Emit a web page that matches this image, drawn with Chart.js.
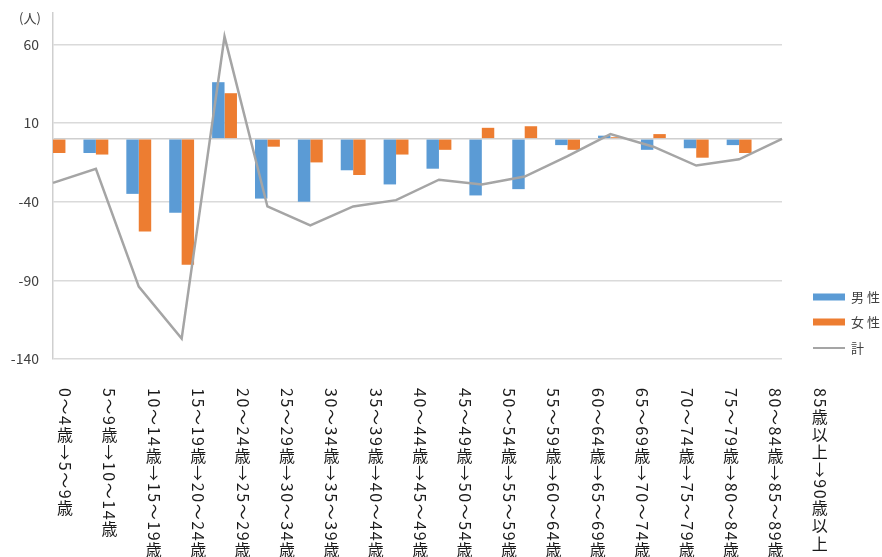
<!DOCTYPE html>
<html><head><meta charset="utf-8">
<script src="https://cdn.jsdelivr.net/npm/chart.js@4.4.1/dist/chart.umd.min.js"></script>
<style>html,body{margin:0;padding:0;background:#fff;}#wrap{width:882px;height:557px;position:relative;}</style>
</head><body><div id="wrap"><canvas id="c" width="882" height="557"></canvas></div>
<script>
const categories = ["0～4歳→5～9歳","5～9歳→10～14歳","10～14歳→15～19歳","15～19歳→20～24歳","20～24歳→25～29歳","25～29歳→30～34歳","30～34歳→35～39歳","35～39歳→40～44歳","40～44歳→45～49歳","45～49歳→50～54歳","50～54歳→55～59歳","55～59歳→60～64歳","60～64歳→65～69歳","65～69歳→70～74歳","70～74歳→75～79歳","75～79歳→80～84歳","80～84歳→85～89歳","85歳以上→90歳以上"];
const maleValues   = [-19,-9,-35,-47,36,-38,-40,-20,-29,-19,-36,-32,-4,2,-7,-6,-4,0];
const femaleValues = [-9,-10,-59,-80,29,-5,-15,-23,-10,-7,7,8,-7,1,3,-12,-9,0];
const totalValues  = [-28,-19,-94,-127,65,-43,-55,-43,-39,-26,-29,-24,-11,3,-5,-17,-13,0];
const yTickValues = [-140,-90,-40,10,60];
const yMin = -140, yMax = 80;
const seriesNames = ["男性","女性","計"];
const unitLabel = "(人)";

const FONT = '"Noto Sans CJK JP", "Noto Sans", sans-serif';

const decorPlugin = {
  id: 'decor',
  afterDraw(chart) {
    const ctx = chart.ctx;
    const xs = chart.scales.x;
    ctx.save();
    // unit label
    ctx.font = '13px ' + FONT;
    ctx.fillStyle = '#404040';
    ctx.textAlign = 'center'; ctx.textBaseline = 'middle';
    ctx.fillText(unitLabel, 30, 18);
    // vertical category labels
    const fs = 16, gap = 1.6;
    ctx.fillStyle = '#1a1a1a';
    ctx.font = fs + 'px ' + FONT;
    categories.forEach((lab, i) => {
      const cx = xs.getPixelForTick(i) + 12 + i * 1.52;
      let y = 388;
      for (const ch of lab) {
        if (/[\u4e00-\u9fff]/.test(ch)) {
          ctx.textAlign = 'center'; ctx.textBaseline = 'middle';
          ctx.fillText(ch, cx, y + fs / 2);
          y += fs + gap;
        } else {
          const w = ctx.measureText(ch).width;
          ctx.save();
          ctx.translate(cx, y);
          ctx.rotate(Math.PI / 2);
          ctx.textAlign = 'left'; ctx.textBaseline = 'middle';
          ctx.fillText(ch, 0, 0);
          ctx.restore();
          y += w + gap;
        }
      }
    });
    // legend
    const ys = [297, 322, 348];
    ctx.font = '13px ' + FONT;
    chart.data.datasets.forEach((ds, k) => {
      const yy = ys[k];
      if (ds.type === 'line') {
        ctx.strokeStyle = ds.borderColor; ctx.lineWidth = 2;
        ctx.beginPath(); ctx.moveTo(813, yy); ctx.lineTo(845, yy); ctx.stroke();
      } else {
        ctx.fillStyle = ds.backgroundColor;
        ctx.fillRect(813, yy - 3.5, 32, 7);
      }
      ctx.fillStyle = '#404040';
      ctx.textAlign = 'left'; ctx.textBaseline = 'middle';
      let tx = 851;
      for (const ch of ds.label) {
        ctx.fillText(ch, tx, yy);
        tx += ctx.measureText(ch).width + 3;
      }
    });
    ctx.restore();
  }
};

new Chart(document.getElementById('c'), {
  type: 'bar',
  data: {
    labels: categories,
    datasets: [
      { type: 'bar', label: seriesNames[0], data: maleValues, backgroundColor: '#5b9bd5', order: 1, clip: 0,
        barPercentage: 1, categoryPercentage: 0.58 },
      { type: 'bar', label: seriesNames[1], data: femaleValues, backgroundColor: '#ed7d31', order: 1, clip: 0,
        barPercentage: 1, categoryPercentage: 0.58 },
      { type: 'line', label: seriesNames[2], data: totalValues, borderColor: '#a5a5a5', backgroundColor: '#a5a5a5',
        borderWidth: 2.5, pointRadius: 0, tension: 0, order: 0 }
    ]
  },
  options: {
    responsive: false,
    animation: false,
    layout: { padding: { top: 13, right: 100, left: 0, bottom: 0 } },
    plugins: { legend: { display: false }, tooltip: { enabled: false } },
    scales: {
      x: {
        offset: false,
        ticks: { display: false },
        grid: { display: false },
        border: { display: false },
        afterFit(s) { s.height = 198; s.paddingLeft = 0; s.paddingRight = 0; }
      },
      y: {
        min: yMin, max: yMax,
        afterBuildTicks(s) { s.ticks = yTickValues.concat([0]).sort((a,b)=>a-b).map(v => ({ value: v })); },
        afterFit(s) { s.width = 53; s.paddingTop = 0; s.paddingBottom = 0; },
        ticks: {
          padding: 14,
          color: '#404040',
          font: { size: 14, family: FONT },
          callback: (v) => (v === 0 ? '' : String(v))
        },
        grid: {
          drawTicks: false,
          lineWidth: 1.5,
          color: (c) => (c.tick && c.tick.value === 0 ? '#cfcfcf' : '#dadada')
        },
        border: { display: true, color: '#cfcfcf', width: 1.5 }
      }
    }
  },
  plugins: [decorPlugin]
});
</script>
</body></html>
